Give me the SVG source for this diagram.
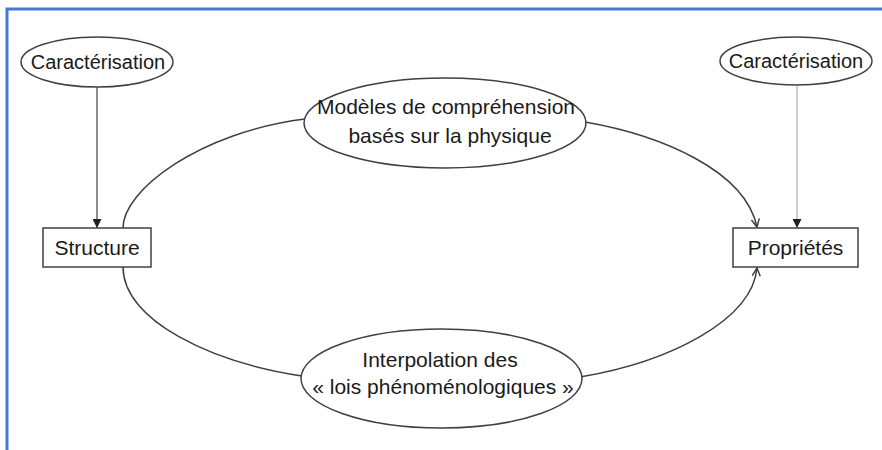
<svg xmlns="http://www.w3.org/2000/svg" width="882" height="450" viewBox="0 0 882 450">
<defs>
<style>
.node{fill:#fff;stroke:#404040;stroke-width:1.5}
.t{font-family:"Liberation Sans",Arial,sans-serif;font-size:21px;fill:#1a1a1a;text-anchor:middle}
.s{font-size:20px}
.c{fill:none;stroke:#404040;stroke-width:1.5}
.frame{stroke:#4a78d0;stroke-width:3;fill:none}
</style>
<marker id="open" viewBox="0 0 10 10" refX="9" refY="5" markerWidth="10" markerHeight="10" markerUnits="userSpaceOnUse" orient="auto">
<path d="M1,1 L9,5 L1,9" fill="none" stroke="#404040" stroke-width="1.5"/>
</marker>
<marker id="tri" viewBox="0 0 10 10" refX="10" refY="5" markerWidth="9" markerHeight="9" markerUnits="userSpaceOnUse" orient="auto">
<path d="M0,0 L10,5 L0,10 Z" fill="#202020"/>
</marker>
</defs>
<rect width="882" height="450" fill="#fff"/>
<path class="frame" d="M7,450 V9 H882"/>
<g id="connectors">
<line x1="97" y1="87" x2="97" y2="228" stroke="#404040" stroke-width="1.2" marker-end="url(#tri)"/>
<line x1="797" y1="86" x2="797" y2="228" stroke="#b0b0b0" stroke-width="1.2" marker-end="url(#tri)"/>
<path class="c" d="M123,228 C123,190 200,132 305,119"/>
<path class="c" d="M585,122 C660,135 745,170 757,227" marker-end="url(#open)"/>
<path class="c" d="M123,267 C123,320 210,362 302,376"/>
<path class="c" d="M580,377 C670,362 752,320 757,268" marker-end="url(#open)"/>
</g>
<g id="carac-left">
<ellipse class="node" cx="97" cy="62" rx="76" ry="25"/>
<text class="t s" x="98" y="69">Caractérisation</text>
</g>
<g id="carac-right">
<ellipse class="node" cx="796" cy="61" rx="76" ry="24"/>
<text class="t s" x="796" y="68">Caractérisation</text>
</g>
<g id="structure">
<rect class="node" x="43" y="228" width="108" height="39"/>
<text class="t" x="97" y="255">Structure</text>
</g>
<g id="proprietes">
<rect class="node" x="733" y="228" width="125" height="39"/>
<text class="t" x="795.5" y="255">Propriétés</text>
</g>
<g id="modeles">
<ellipse class="node" cx="445" cy="123" rx="141" ry="45"/>
<text class="t" x="446" y="114">Modèles de compréhension</text>
<text class="t" x="450" y="143">basés sur la physique</text>
</g>
<g id="interpolation">
<ellipse class="node" cx="441.5" cy="378.5" rx="140.5" ry="49.5"/>
<text class="t" x="440" y="367">Interpolation des</text>
<text class="t" x="443" y="394">« lois phénoménologiques »</text>
</g>
</svg>
